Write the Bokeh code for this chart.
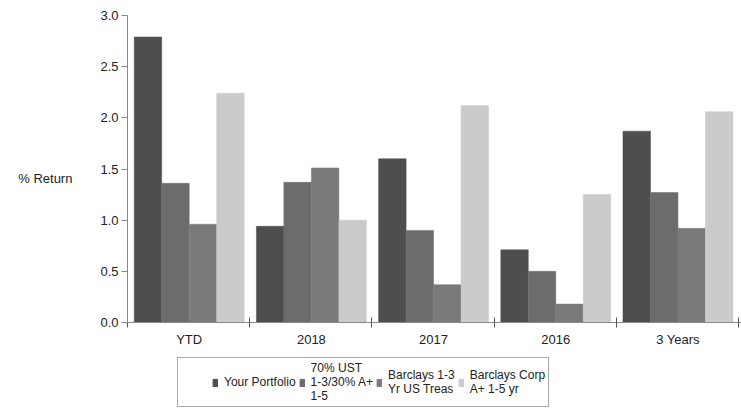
import numpy as np
from bokeh.plotting import figure
from bokeh.layouts import column
from bokeh.models import (ColumnDataSource, Range1d, FixedTicker, Legend, LegendItem)
from bokeh.embed import file_html
from bokeh.resources import INLINE

categories = ["YTD", "2018", "2017", "2016", "3 Years"]
series_names = ["Your Portfolio", "70% UST\n1-3/30% A+\n1-5", "Barclays 1-3\nYr US Treas", "Barclays Corp\nA+ 1-5 yr"]
your_portfolio = [2.79, 0.94, 1.60, 0.71, 1.87]
ust_70_30 = [1.36, 1.37, 0.90, 0.50, 1.27]
barclays_1_3_treas = [0.96, 1.51, 0.37, 0.18, 0.92]
barclays_corp = [2.24, 1.00, 2.12, 1.25, 2.06]
y_ticks = [0.0, 0.5, 1.0, 1.5, 2.0, 2.5, 3.0]

series = [your_portfolio, ust_70_30, barclays_1_3_treas, barclays_corp]
colors = ["#4e4e4e", "#6c6c6c", "#7a7a7a", "#cbcbcb"]

FONT = "Liberation Sans"

p = figure(width=741, height=350, output_backend="svg", toolbar_location=None,
           x_range=Range1d(0, 5.025), y_range=Range1d(0, 3.0),
           min_border_left=127, min_border_right=0, min_border_top=15, min_border_bottom=28)
p.outline_line_color = None
p.xgrid.visible = False
p.ygrid.visible = False
p.background_fill_color = "white"
p.border_fill_color = "white"

n = len(categories)
bar_w = 0.225
centers = np.arange(n) + 0.505
sources = []
for j, (vals, col) in enumerate(zip(series, colors)):
    src = ColumnDataSource(dict(x=centers + (j - 1.5) * bar_w, top=vals))
    sources.append(src)
    p.vbar(x="x", top="top", width=bar_w, source=src, fill_color=col,
           line_color=col, line_width=0.5)

# y axis
yax = p.yaxis[0]
yax.ticker = FixedTicker(ticks=y_ticks, minor_ticks=[])
yax.major_label_overrides = {v: f"{v:.1f}" for v in y_ticks}
yax.axis_line_color = "#8a8a8a"
yax.major_tick_line_color = "#8a8a8a"
yax.major_tick_out = 6
yax.major_tick_in = 0
yax.minor_tick_line_color = None
yax.major_label_standoff = 3
yax.major_label_text_font = FONT
yax.major_label_text_font_size = "13px"
yax.major_label_text_color = "#222222"
yax.axis_label = " \n% Return"
yax.axis_label_orientation = "horizontal"
yax.axis_label_text_font = FONT
yax.axis_label_text_font_size = "13px"
yax.axis_label_text_font_style = "normal"
yax.axis_label_text_color = "#222222"
yax.axis_label_standoff = 25

# x axis: labels at category centers, ticks at boundaries
xax = p.xaxis[0]
xax.ticker = FixedTicker(ticks=list(centers), minor_ticks=list(range(n + 1)))
xax.major_label_overrides = {float(c): lab for c, lab in zip(centers, categories)}
xax.axis_line_color = "#8a8a8a"
xax.major_tick_line_color = None
xax.major_tick_out = 0
xax.major_tick_in = 0
xax.minor_tick_line_color = "#555555"
xax.minor_tick_in = 5
xax.minor_tick_out = 5
xax.major_label_standoff = 4
xax.major_label_text_font = FONT
xax.major_label_text_font_size = "13px"
xax.major_label_text_color = "#222222"

# legend figure below the chart
lf = figure(width=741, height=58, output_backend="svg", toolbar_location=None,
            x_axis_location=None, y_axis_location=None,
            x_range=Range1d(0, 1), y_range=Range1d(0, 1),
            min_border_left=0, min_border_right=0, min_border_top=0, min_border_bottom=0)
lf.outline_line_color = None
lf.xgrid.visible = False
lf.ygrid.visible = False

items = []
for name, col, src in zip(series_names, colors, sources):
    r = lf.vbar(x="x", top="top", width=0.1, source=src, fill_color=col,
                line_color=col, visible=False)
    items.append(LegendItem(label=name, renderers=[r]))

legend = Legend(items=items, orientation="horizontal", location=(50, 1),
                title=" ", title_location="left", title_standoff=30,
                title_text_font_size="1px",
                glyph_width=6, glyph_height=9, label_standoff=6, label_width=0,
                spacing=3, padding=3, margin=0,
                label_text_font=FONT, label_text_font_size="12px",
                label_text_color="#222222", label_text_line_height=0.9,
                inactive_fill_alpha=0.0,
                border_line_color="#555555", border_line_width=1,
                background_fill_alpha=1.0, click_policy="none")
lf.add_layout(legend, "center")

layout = column(p, lf, spacing=0)
open("out.html", "w").write(file_html(layout, INLINE))
